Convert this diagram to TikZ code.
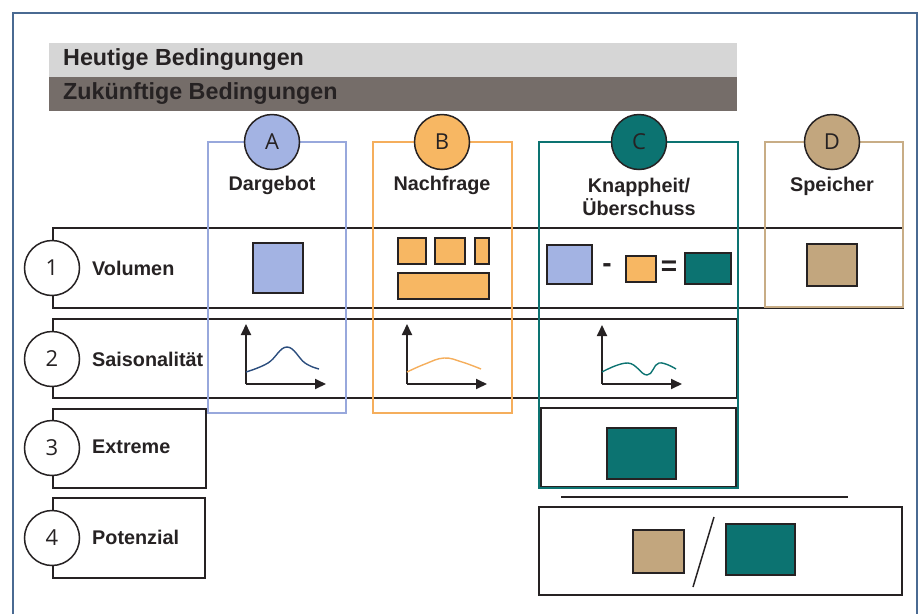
\documentclass[tikz,border=0pt]{standalone}
\usepackage{fontspec}
\setmainfont{Liberation Sans}
\newfontfamily\circfont{Open Sans}
\usetikzlibrary{arrows.meta}

\definecolor{frameblue}{HTML}{4A6A92}
\definecolor{lightbar}{HTML}{D6D6D6}
\definecolor{darkbar}{HTML}{756D69}
\definecolor{colA}{HTML}{A3B3E3}
\definecolor{lineA}{HTML}{98A8DC}
\definecolor{colB}{HTML}{F7B763}
\definecolor{lineB}{HTML}{F5AE5C}
\definecolor{colC}{HTML}{0C7371}
\definecolor{colD}{HTML}{C2A67E}
\definecolor{lineD}{HTML}{C8AD86}
\definecolor{curveA}{HTML}{2B4D7D}
\definecolor{ink}{HTML}{262223}

\begin{document}
\begin{tikzpicture}[x=1pt,y=-1pt,
    bigcirc/.style={circle,draw=ink,line width=1.5pt,minimum size=55pt,inner sep=0pt,text=ink,font=\circfont\fontsize{22}{24}\selectfont},
    lab/.style={anchor=west,inner sep=0pt,text=ink,font=\bfseries\fontsize{19.8}{23}\selectfont},
    head/.style={inner sep=0pt,align=center,text=ink,font=\bfseries\fontsize{19.8}{23}\selectfont},
    bar/.style={anchor=west,inner sep=0pt,text=ink,font=\bfseries\fontsize{23.3}{26}\selectfont},
    rowbox/.style={draw=ink,line width=1.8pt},
    swatch/.style={draw=ink,line width=1.6pt},
    axis/.style={draw=ink,line width=1.8pt,-{Triangle[length=11pt,width=10pt]}},
    curve/.style={line width=1.4pt,smooth,tension=0.7}]
    \useasboundingbox (0,0) rectangle (921,614);
    \draw[frameblue,line width=1.8pt] (13,614) -- (13,13) -- (917,13) -- (917,614);
    \fill[lightbar] (49,43) rectangle (737,77);
    \fill[darkbar] (49,77) rectangle (737,111);
    \node[bar] (today) at (63,60) {Heutige Bedingungen};
    \node[bar] (future) at (63,94) {Zukünftige Bedingungen};
    \draw[rowbox] (53,228) rectangle (903,308);
    \draw[rowbox] (53,319) rectangle (737,398);
    \draw[rowbox] (53,409) rectangle (206,488);
    \draw[rowbox] (53,498) rectangle (205,578);
    \draw[rowbox] (541,408) rectangle (736,487);
    \draw[rowbox] (539,507) rectangle (902,595);
    \draw[ink,line width=1.5pt] (561,497) -- (848,497);
    \draw[lineA,line width=1.3pt] (208,142) rectangle (346,413);
    \draw[lineB,line width=1.3pt] (373,142) rectangle (512,413);
    \draw[colC,line width=1.8pt] (539,142) rectangle (738,488);
    \draw[lineD,line width=1.3pt] (765,142) rectangle (903,307);
    \node[bigcirc,fill=colA] (cA) at (272,142) {A};
    \node[bigcirc,fill=colB] (cB) at (442,142) {B};
    \node[bigcirc,fill=colC] (cC) at (639,142) {C};
    \node[bigcirc,fill=colD] (cD) at (832,142) {D};
    \node[head] (hA) at (272,185) {Dargebot};
    \node[head] (hB) at (442,185) {Nachfrage};
    \node[head] (hC) at (639,197) {Knappheit/\\Überschuss};
    \node[head] (hD) at (832,186) {Speicher};
    \node[bigcirc,fill=white] (n1) at (52,268) {1};
    \node[bigcirc,fill=white] (n2) at (52,359) {2};
    \node[bigcirc,fill=white] (n3) at (52,448) {3};
    \node[bigcirc,fill=white] (n4) at (52,538) {4};
    \node[lab] (l1) at (92,268) {Volumen};
    \node[lab] (l2) at (92,359) {Saisonalität};
    \node[lab] (l3) at (92,447) {Extreme};
    \node[lab] (l4) at (92,537) {Potenzial};
    \draw[swatch,fill=colA] (253,243) rectangle (303,293);
    \draw[swatch,fill=colB] (398,238) rectangle (426,264);
    \draw[swatch,fill=colB] (435,238) rectangle (465,264);
    \draw[swatch,fill=colB] (475,238) rectangle (489,264);
    \draw[swatch,fill=colB] (398,273) rectangle (489,299);
    \draw[swatch,fill=colA] (547,245) rectangle (592,284);
    \node[head,font=\bfseries\fontsize{28}{30}\selectfont] (minus) at (607,268) {-};
    \draw[swatch,fill=colB] (626,256) rectangle (656,282);
    \node[head,font=\bfseries\fontsize{28}{30}\selectfont] (equals) at (669,268) {=};
    \draw[swatch,fill=colC] (685,253) rectangle (731,284);
    \draw[swatch,fill=colD] (807,244) rectangle (857,286);
    \coordinate (oA) at (246,384);
    \coordinate (oB) at (407,384);
    \coordinate (oC) at (602,384);
    \draw[axis] (oA) -- +(0,-60);
    \draw[axis] (oA) -- +(80,0);
    \draw[axis] (oB) -- +(0,-60);
    \draw[axis] (oB) -- +(80,0);
    \draw[axis] (oC) -- +(0,-59);
    \draw[axis] (oC) -- +(80,0);
    \draw[curve,curveA] plot coordinates {(246,372) (268,363) (287,347) (305,363) (319,369)};
    \draw[curve,lineB] plot coordinates {(407,372) (425,364) (444,358) (462,362) (481,369)};
    \draw[curve,colC] plot coordinates {(602,372) (628,363) (647,375) (659,363) (676,369)};
    \draw[swatch,fill=colC] (607,428) rectangle (676,479);
    \draw[swatch,fill=colD] (633,530) rectangle (684,573);
    \draw[ink,line width=1.5pt] (714,517) -- (693,587);
    \draw[swatch,fill=colC] (726,524) rectangle (795,575);
\end{tikzpicture}
\end{document}
